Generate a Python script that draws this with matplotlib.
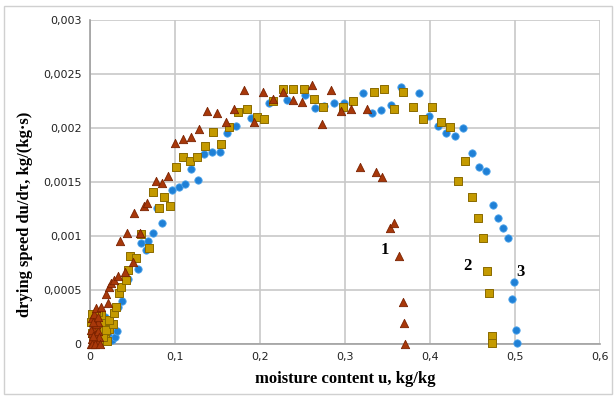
import matplotlib

matplotlib.use("Agg")
import matplotlib.pyplot as plt
from matplotlib.patches import Rectangle
from matplotlib.ticker import FuncFormatter, MultipleLocator

# curve 1 (triangles)
u1 = [0.001, 0.002, 0.003, 0.004, 0.005, 0.001, 0.006, 0.008, 0.010, 0.007,
      0.002, 0.005, 0.009, 0.011, 0.003, 0.006, 0.012, 0.004,
      0.0035, 0.009, 0.007, 0.013, 0.021, 0.019, 0.022, 0.025, 0.028, 0.033,
      0.041, 0.051, 0.035, 0.044, 0.059, 0.052, 0.064, 0.067, 0.078, 0.085,
      0.092, 0.100, 0.109, 0.119, 0.128, 0.138, 0.149, 0.160, 0.169, 0.181,
      0.193, 0.204, 0.215, 0.227, 0.239, 0.249, 0.261, 0.273, 0.284, 0.295,
      0.307, 0.326, 0.318, 0.336, 0.344, 0.353, 0.358, 0.364, 0.368, 0.369,
      0.371]
v1 = [0.0, 0.00005, 0.0001, 0.00015, 0.0002, 0.00013, 0.00008, 0.00003, 0.00012, 0.00018,
      0.00024, 0.00028, 0.0002, 0.00006, 0.0, 0.0, 0.0, 0.00007,
      0.000204, 0.00025, 0.000333, 0.000343, 0.00038, 0.000463, 0.000528, 0.000565, 0.000593, 0.00063,
      0.000667, 0.000759, 0.000954, 0.001028, 0.001028, 0.001213, 0.001278, 0.001306, 0.001509, 0.00149,
      0.001556, 0.001861, 0.001898, 0.001917, 0.001991, 0.002157, 0.002139, 0.002056, 0.002176, 0.002352,
      0.002056, 0.002333, 0.002269, 0.002333, 0.002259, 0.002241, 0.002398, 0.002037, 0.002352, 0.002157,
      0.002176, 0.002176, 0.001639, 0.001593, 0.001546, 0.001074, 0.00112, 0.000815, 0.000389, 0.000194,
      0.0]

# curve 2 (squares)
u2 = [0.001, 0.002, 0.004, 0.006, 0.008, 0.012, 0.014, 0.016, 0.018, 0.020,
      0.013, 0.010, 0.003, 0.007, 0.017, 0.023, 0.005,
      0.011, 0.015, 0.019, 0.027, 0.022, 0.028, 0.031, 0.034, 0.036, 0.042,
      0.045, 0.047, 0.054, 0.060, 0.069, 0.074, 0.081, 0.087, 0.094, 0.101,
      0.109, 0.118, 0.126, 0.135, 0.145, 0.154, 0.164, 0.174, 0.185, 0.196,
      0.205, 0.215, 0.227, 0.239, 0.252, 0.264, 0.274, 0.298, 0.309, 0.334,
      0.346, 0.368, 0.358, 0.380, 0.402, 0.392, 0.413, 0.424, 0.441, 0.433,
      0.449, 0.456, 0.462, 0.467, 0.469, 0.473, 0.473]
v2 = [0.0002, 0.0001, 0.00002, 0.00014, 0.00022, 0.00005, 0.00015, 0.0002, 0.00008, 0.00003,
      0.00027, 0.0003, 0.00028, 0.00026, 0.00012, 0.00014, 0.00009,
      0.000019, 0.000065, 0.00013, 0.000185, 0.000222, 0.000287, 0.000343, 0.000472, 0.000528, 0.000593,
      0.000685, 0.000815, 0.000796, 0.001019, 0.000889, 0.001407, 0.001259, 0.001361, 0.001278, 0.001639,
      0.001731, 0.001694, 0.001731, 0.001833, 0.001963, 0.001852, 0.002009, 0.002148, 0.002176, 0.002102,
      0.002083, 0.00225, 0.002361, 0.002361, 0.002361, 0.002269, 0.002194, 0.002194, 0.00225, 0.002333,
      0.002361, 0.002333, 0.002176, 0.002194, 0.002194, 0.002083, 0.002056, 0.002009, 0.001694, 0.001509,
      0.001361, 0.001167, 0.000981, 0.000676, 0.000472, 0.000074, 0.000009]

# curve 3 (circles)
u3 = [0.004, 0.008, 0.012, 0.016, 0.021, 0.024, 0.018, 0.022,
      0.002, 0.026, 0.029, 0.032, 0.033, 0.038, 0.045, 0.056, 0.066, 0.060,
      0.068, 0.074, 0.085, 0.079, 0.097, 0.105, 0.112, 0.127, 0.119, 0.134,
      0.144, 0.153, 0.161, 0.172, 0.189, 0.211, 0.232, 0.253, 0.265, 0.275,
      0.287, 0.299, 0.309, 0.321, 0.332, 0.342, 0.354, 0.366, 0.387, 0.399,
      0.409, 0.419, 0.429, 0.439, 0.449, 0.458, 0.466, 0.474, 0.480, 0.486,
      0.492, 0.499, 0.496, 0.501, 0.502]
v3 = [0.00028, 0.00019, 0.00011, 0.00016, 0.00008, 0.00004, 0.00025, 0.0002,
      0.000269, 0.000037, 0.000065, 0.00012, 0.000343, 0.000398, 0.000602, 0.000694, 0.00087, 0.000935,
      0.000954, 0.001028, 0.00112, 0.001259, 0.00143, 0.001454, 0.001481, 0.001519, 0.00162, 0.001759,
      0.001778, 0.001778, 0.001954, 0.002019, 0.002093, 0.002231, 0.002259, 0.002306, 0.002185, 0.002204,
      0.002231, 0.002231, 0.00225, 0.002324, 0.002139, 0.002167, 0.002213, 0.00238, 0.002324, 0.002111,
      0.002019, 0.001954, 0.001926, 0.002, 0.001769, 0.001639, 0.001602, 0.001287, 0.001167, 0.001074,
      0.000981, 0.000574, 0.000417, 0.00013, 0.000009]

curve_labels = ["1", "2", "3"]
label_u = [0.347, 0.4435, 0.507]
label_v = [0.00087, 0.00072, 0.00067]

fig = plt.figure(figsize=(6.16, 3.99), dpi=100)
ax = fig.add_axes([0.146, 0.138, 0.828, 0.812])

ax.scatter(u3, v3, marker="o", s=28, color="#1f80d6", edgecolors="#4da3ea",
           linewidths=0.6, zorder=3, clip_on=False)
ax.scatter(u2, v2, marker="s", s=32, color="#c49a00", edgecolors="#8a6a00",
           linewidths=0.7, zorder=4, clip_on=False)
ax.scatter(u1, v1, marker="^", s=36, color="#a8380a", edgecolors="#7a2200",
           linewidths=0.6, zorder=5, clip_on=False)

for t, x, y in zip(curve_labels, label_u, label_v):
    ax.text(x, y, t, family="Liberation Serif", fontweight="bold", fontsize=12,
            ha="center", va="center", zorder=6)

ax.set_xlim(0, 0.6)
ax.set_ylim(0, 0.003)
ax.xaxis.set_major_locator(MultipleLocator(0.1))
ax.yaxis.set_major_locator(MultipleLocator(0.0005))


def comma_fmt(val, pos):
    if abs(val) < 1e-12:
        return "0"
    return f"{val:g}".replace(".", ",")


ax.xaxis.set_major_formatter(FuncFormatter(lambda v, p: comma_fmt(round(v, 2), p)))
ax.yaxis.set_major_formatter(FuncFormatter(lambda v, p: comma_fmt(round(v, 5), p)))

ax.grid(True, color="#c8c8c8", linewidth=1.2)
ax.set_axisbelow(True)
for side in ["top", "right"]:
    ax.spines[side].set_visible(False)
for side in ["left", "bottom"]:
    ax.spines[side].set_color("#a0a0a0")
    ax.spines[side].set_linewidth(1.2)
ax.tick_params(length=0, labelsize=8, pad=6, colors="#222222")

ax.set_xlabel("moisture content u, kg/kg", family="Liberation Serif",
              fontweight="bold", fontsize=12, labelpad=6)
ax.set_ylabel("drying speed du/dτ, kg/(kg·s)", family="Liberation Serif",
              fontweight="bold", fontsize=12)
ax.yaxis.set_label_coords(-0.112, 0.40)

fig.patches.append(Rectangle((0.006, 0.012), 0.988, 0.973, transform=fig.transFigure,
                             fill=False, edgecolor="#d0d0d0", linewidth=1.0))

fig.savefig("out.png", dpi=100)
plt.close(fig)
